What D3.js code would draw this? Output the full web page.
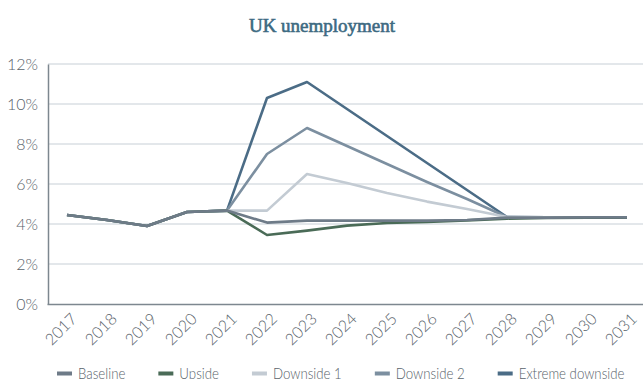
<!DOCTYPE html>
<html>
<head>
<meta charset="utf-8">
<script src="https://cdn.jsdelivr.net/npm/d3@7"></script>
<style>
  body { margin: 0; background: #fff; }
  svg text { font-family: Lato, "Open Sans", sans-serif; }
</style>
</head>
<body>
<svg id="chart" width="643" height="379"></svg>
<script>
// years on the x axis
var years = [2017, 2018, 2019, 2020, 2021, 2022, 2023, 2024, 2025, 2026, 2027, 2028, 2029, 2030, 2031];
var yTicks = [0, 2, 4, 6, 8, 10, 12];

// scenarios, % unemployment
var baseline   = [4.45, 4.2, 3.9, 4.6, 4.67, 4.07, 4.17, 4.17, 4.17, 4.17, 4.2, 4.32, 4.32, 4.33, 4.33];
var upside     = [4.45, 4.2, 3.9, 4.6, 4.67, 3.45, 3.67, 3.92, 4.05, 4.1, 4.18, 4.27, 4.3, 4.32, 4.32];
var downside1  = [4.45, 4.2, 3.9, 4.6, 4.67, 4.67, 6.5, 6.05, 5.55, 5.12, 4.75, 4.35, 4.33, 4.33, 4.33];
var downside2  = [4.45, 4.2, 3.9, 4.6, 4.67, 7.5, 8.8, 7.9, 7.0, 6.1, 5.25, 4.35, 4.33, 4.33, 4.33];
var extreme    = [4.45, 4.2, 3.9, 4.6, 4.67, 10.3, 11.1, 9.75, 8.4, 7.05, 5.7, 4.35, 4.33, 4.33, 4.33];

var names  = ["Baseline", "Upside", "Downside 1", "Downside 2", "Extreme downside"];
var colors = ["#6e7b88", "#4a6b57", "#c3cbd3", "#7c8fa0", "#4b6c86"];

var series = [baseline, upside, downside1, downside2, extreme].map(function (v, i) {
  return { name: names[i], color: colors[i], values: v };
});

var svg = d3.select("#chart");

var x = d3.scaleBand().domain(years).range([47, 647]);
var y = d3.scaleLinear().domain([0, 12]).range([304, 64]);

// title
svg.append("text")
  .attr("x", 322).attr("y", 32)
  .attr("text-anchor", "middle")
  .style("font-family", "'Liberation Serif', serif")
  .style("font-size", "19px")
  .style("fill", "#3d6a82")
  .style("stroke", "#3d6a82").style("stroke-width", 0.6)
  .text("UK unemployment");

// gridlines
svg.append("g").selectAll("line")
  .data(yTicks.filter(function (d) { return d > 0; }))
  .enter().append("line")
  .attr("x1", 48).attr("x2", 643)
  .attr("y1", function (d) { return y(d); })
  .attr("y2", function (d) { return y(d); })
  .attr("stroke", "#c7cfd6").attr("stroke-width", 1);

// y axis
var yAxis = svg.append("g")
  .attr("transform", "translate(48,0)")
  .call(d3.axisLeft(y).tickValues(yTicks).tickSize(0).tickPadding(10)
    .tickFormat(function (d) { return d + "%"; }));
yAxis.select(".domain").attr("stroke", "#7d878f").attr("stroke-width", 1.5);
yAxis.selectAll("text")
  .style("font-size", "16px").style("font-weight", 300)
  .style("fill", "#59636b").style("font-family", "Lato, sans-serif");

// x axis
var xAxis = svg.append("g")
  .attr("transform", "translate(0,304)")
  .call(d3.axisBottom(x).tickSize(0).tickPadding(0));
xAxis.select(".domain").attr("stroke", "#7d878f").attr("stroke-width", 1.5);
xAxis.selectAll("text")
  .style("font-size", "16px").style("font-weight", 300)
  .style("fill", "#59636b").style("font-family", "Lato, sans-serif")
  .attr("text-anchor", "end")
  .attr("y", 0)
  .attr("dy", "0.35em")
  .attr("transform", "translate(7,12) rotate(-45)");

// lines
var line = d3.line()
  .x(function (d, i) { return x(years[i]) + x.bandwidth() / 2; })
  .y(function (d) { return y(d); });

svg.append("g").selectAll("path")
  .data(series.slice().reverse())
  .enter().append("path")
  .attr("d", function (d) { return line(d.values); })
  .attr("fill", "none")
  .attr("stroke", function (d) { return d.color; })
  .attr("stroke-width", 2.6)
  .attr("stroke-linejoin", "round");

// legend - the original font is a narrow one, so squeeze Lato a bit
var squeeze = 0.83;
var legend = svg.append("g").attr("transform", "translate(57,373)");
var lx = 0;
series.forEach(function (s) {
  var g = legend.append("g").attr("transform", "translate(" + lx + ",0)");
  g.append("rect")
    .attr("x", 0).attr("y", -1.5).attr("width", 15).attr("height", 4)
    .attr("fill", s.color);
  var t = g.append("text")
    .attr("transform", "translate(21,0) scale(" + squeeze + ",1)")
    .attr("dy", "0.35em")
    .style("font-size", "16px").style("font-weight", 300)
    .style("fill", "#59636b")
    .text(s.name);
  lx += 21 + t.node().getComputedTextLength() * squeeze + 33;
});
</script>
</body>
</html>
